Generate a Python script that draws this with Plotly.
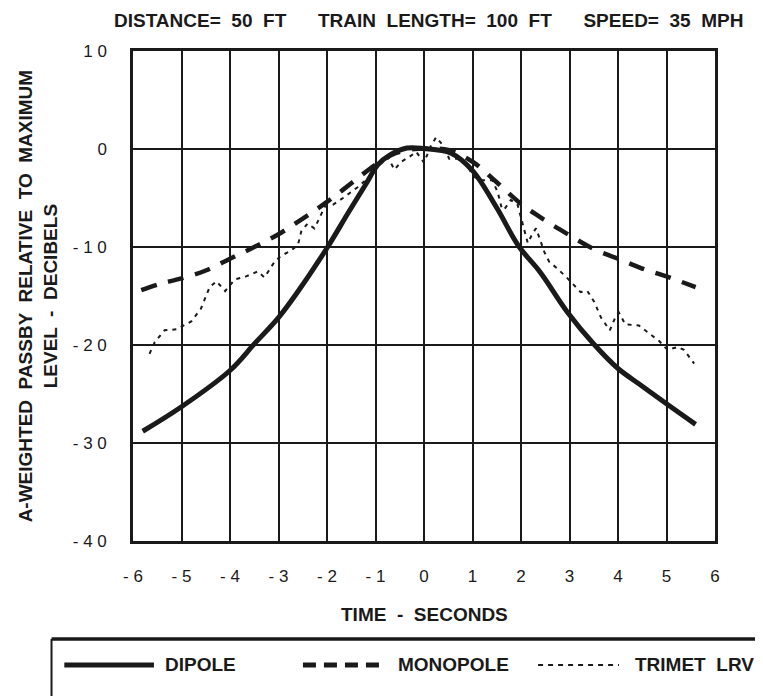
import plotly.graph_objects as go

# dipole model (solid)
dipole_t = [-5.8, -5.0, -4.0, -3.5, -3.0, -2.65, -2.0, -1.55, -1.2, -0.95, -0.7, -0.35, 0.0,
            0.55, 1.0, 1.5, 1.95, 2.4, 2.95, 3.5, 4.0, 4.5, 5.0, 5.6]
dipole_db = [-28.8, -26.3, -22.6, -19.9, -17.2, -14.9, -10.1, -6.4, -3.6, -1.6, -0.6, 0.1, 0.05,
             -0.4, -2.2, -6.0, -9.9, -12.6, -16.6, -19.9, -22.4, -24.2, -26.0, -28.1]

# monopole model (heavy dash)
mono_t = [-5.83, -5.4, -5.0, -4.5, -4.0, -3.5, -3.0, -2.5, -2.0, -1.5, -1.0, -0.6, -0.2, 0.0,
          0.5, 1.0, 1.5, 2.0, 2.5, 3.0, 3.5, 4.0, 4.5, 5.0, 5.6]
mono_db = [-14.4, -13.7, -13.2, -12.4, -11.2, -10.0, -8.7, -7.1, -5.4, -3.5, -1.6, -0.45, 0.0, 0.05,
           -0.1, -1.3, -3.4, -5.6, -7.3, -8.8, -10.2, -11.2, -12.2, -13.0, -14.1]

# measured Trimet LRV passby (light dash)
lrv_t = [-5.66, -5.55, -5.35, -5.1, -4.8, -4.6, -4.42, -4.28, -4.1, -3.9, -3.67, -3.43, -3.29,
         -3.08, -2.95, -2.75, -2.6, -2.53, -2.4, -2.26, -2.16, -2.05, -1.88, -1.67, -1.37, -1.16,
         -0.92, -0.75, -0.61, -0.47, -0.3, -0.16, 0.0, 0.14, 0.25, 0.39, 0.52, 0.69, 0.9, 1.0,
         1.21, 1.41, 1.52, 1.6, 1.65, 1.79, 1.93, 2.0, 2.07, 2.14, 2.24, 2.31, 2.41, 2.48, 2.58,
         2.75, 2.96, 3.1, 3.23, 3.37, 3.51, 3.65, 3.83, 3.96, 4.02, 4.15, 4.43, 4.64, 4.85, 5.02,
         5.23, 5.36, 5.57]
lrv_db = [-20.9, -19.7, -18.5, -18.4, -17.6, -16.3, -14.1, -13.5, -14.5, -13.3, -13.0, -12.5, -13.1,
          -11.5, -10.9, -10.4, -9.8, -8.4, -7.6, -8.1, -7.1, -5.9, -5.7, -5.0, -3.9, -3.0,
          -1.6, -0.8, -2.1, -1.3, -0.8, -0.3, -1.4, 0.3, 1.2, 0.4, -1.0, -1.0, -1.6, -2.8,
          -3.2, -3.2, -4.4, -6.0, -6.2, -5.2, -5.7, -7.1, -8.4, -9.6, -8.6, -8.1, -9.5, -10.5, -11.5,
          -12.2, -13.2, -13.9, -14.6, -14.5, -15.6, -17.2, -18.5, -17.0, -16.7, -17.9, -18.0, -18.8, -19.6, -20.5,
          -20.2, -20.5, -21.9]

x_ticks = [-6, -5, -4, -3, -2, -1, 0, 1, 2, 3, 4, 5, 6]
x_ticktext = ["- 6", "- 5", "- 4", "- 3", "- 2", "- 1", "0", "1", "2", "3", "4", "5", "6"]
y_ticks = [10, 0, -10, -20, -30, -40]
y_ticktext = ["1 0", "0", "- 1 0", "- 2 0", "- 3 0", "- 4 0"]

fnt = "Liberation Sans, Arial, sans-serif"
ink = "#1a1a1a"

fig = go.Figure()
fig.add_trace(go.Scatter(x=dipole_t, y=dipole_db, mode="lines", name="DIPOLE",
                         line=dict(color=ink, width=5, shape="spline")))
fig.add_trace(go.Scatter(x=mono_t, y=mono_db, mode="lines", name="MONOPOLE",
                         line=dict(color=ink, width=4.5, dash="16px,12px", shape="spline")))
fig.add_trace(go.Scatter(x=lrv_t, y=lrv_db, mode="lines", name="TRIMET LRV",
                         line=dict(color=ink, width=2, dash="4px,5px")))

fig.update_xaxes(range=[-6, 6], tickvals=x_ticks, ticktext=x_ticktext,
                 showgrid=True, gridcolor=ink, gridwidth=2, zeroline=False,
                 showline=True, linecolor=ink, linewidth=2.5, mirror=True,
                 ticks="outside", ticklen=0, ticklabelstandoff=18,
                 tickfont=dict(family=fnt, size=17, color=ink))
fig.update_yaxes(range=[-40, 10], tickvals=y_ticks, ticktext=y_ticktext,
                 showgrid=True, gridcolor=ink, gridwidth=2, zeroline=False,
                 showline=True, linecolor=ink, linewidth=2.5, mirror=True,
                 ticks="outside", ticklen=0, ticklabelstandoff=20,
                 tickfont=dict(family=fnt, size=17, color=ink))

fig.add_annotation(text="<b>DISTANCE=  50  FT      TRAIN  LENGTH=  100  FT      SPEED=  35  MPH</b>",
                   xref="paper", yref="paper", x=0.507, y=1.063, xanchor="center", yanchor="middle",
                   showarrow=False, font=dict(family=fnt, size=19, color=ink))
fig.add_annotation(text="<b>A-WEIGHTED  PASSBY  RELATIVE  TO  MAXIMUM<br>LEVEL  -  DECIBELS</b>",
                   xref="paper", yref="paper", x=-0.1626, y=0.5, textangle=-90,
                   xanchor="center", yanchor="middle", showarrow=False,
                   font=dict(family=fnt, size=19, color=ink))
fig.add_annotation(text="<b>TIME  -  SECONDS</b>", xref="paper", yref="paper",
                   x=0.5, y=-0.149, xanchor="center", yanchor="middle", showarrow=False,
                   font=dict(family=fnt, size=19, color=ink))

# legend box drawn below the chart
fig.add_shape(type="line", xref="paper", yref="paper", x0=-0.140, x1=1.12, y0=-0.2, y1=-0.2,
              line=dict(color=ink, width=3.5))
fig.add_shape(type="line", xref="paper", yref="paper", x0=-0.140, x1=-0.140, y0=-0.2, y1=-0.34,
              line=dict(color=ink, width=2))
leg_y = -0.253
fig.add_shape(type="line", xref="paper", yref="paper", x0=-0.118, x1=0.036, y0=leg_y, y1=leg_y,
              line=dict(color=ink, width=5))
fig.add_shape(type="line", xref="paper", yref="paper", x0=0.292, x1=0.436, y0=leg_y, y1=leg_y,
              line=dict(color=ink, width=5, dash="13px,8px"))
fig.add_shape(type="line", xref="paper", yref="paper", x0=0.696, x1=0.835, y0=leg_y, y1=leg_y,
              line=dict(color=ink, width=2, dash="5px,5px"))
for label, xpos in [("DIPOLE", 0.052), ("MONOPOLE", 0.452), ("TRIMET  LRV", 0.859)]:
    fig.add_annotation(text="<b>" + label + "</b>", xref="paper", yref="paper", x=xpos, y=leg_y,
                       xanchor="left", yanchor="middle", showarrow=False,
                       font=dict(family=fnt, size=19, color=ink))

fig.update_layout(width=763, height=696, showlegend=False,
                  margin=dict(l=125, r=56, t=43, b=163),
                  plot_bgcolor="white", paper_bgcolor="white")

fig.write_html("out.html")
